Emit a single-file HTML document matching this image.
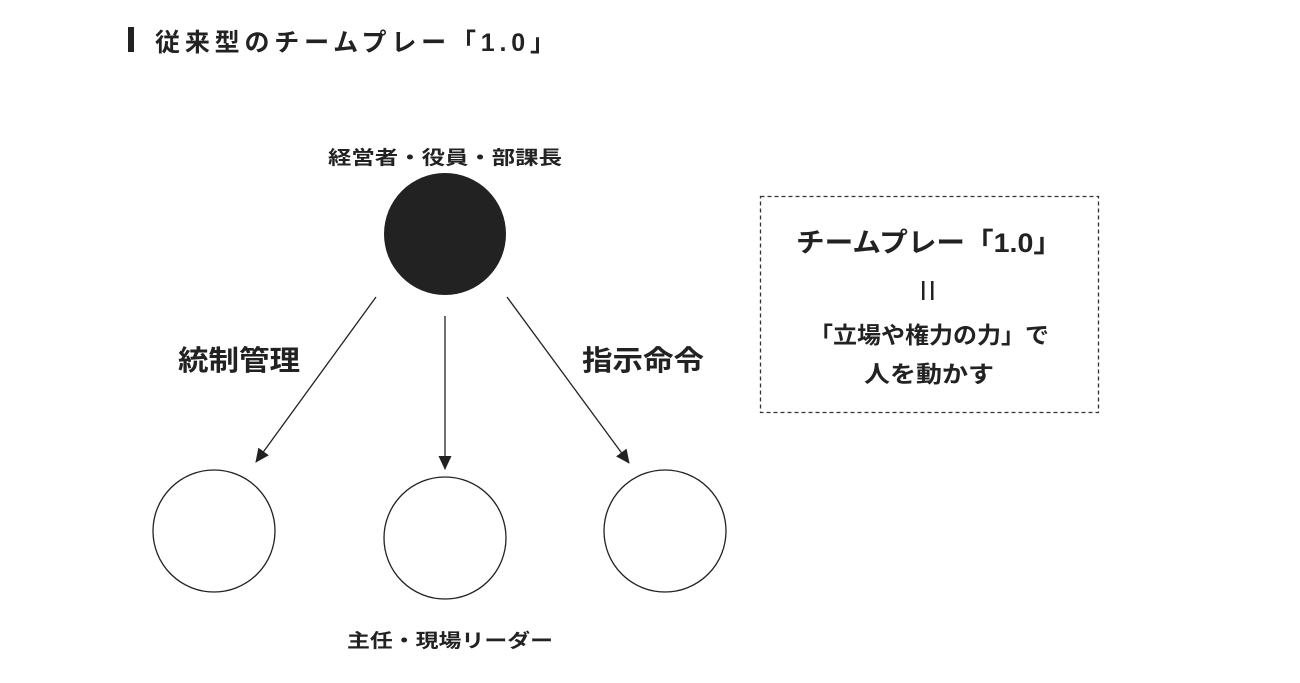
<!DOCTYPE html>
<html><head><meta charset="utf-8"><style>
html,body{margin:0;padding:0;background:#fff;}
svg{display:block;}
text{font-family:"Liberation Sans","Noto Sans CJK JP",sans-serif;fill:#222;}
</style></head><body>
<svg width="1300" height="683" viewBox="0 0 1300 683" xmlns="http://www.w3.org/2000/svg">
<defs>
<marker id="ah" markerWidth="14" markerHeight="14" refX="13" refY="6.5" orient="auto" markerUnits="userSpaceOnUse" viewBox="0 0 14 13">
<path d="M0,0 L14,6.5 L0,13 z" fill="#222"/>
</marker>
</defs>
<rect x="128" y="27" width="6" height="25" fill="#222"/>
<text x="155" y="51" font-size="25" font-weight="bold" textLength="400" lengthAdjust="spacing">従来型のチームプレー「1.0」</text>

<text x="445" y="164" font-size="19" font-weight="bold" text-anchor="middle" textLength="234" lengthAdjust="spacingAndGlyphs">経営者・役員・部課長</text>
<circle cx="445" cy="234" r="61" fill="#222"/>

<line x1="376" y1="297" x2="256" y2="462" stroke="#222" stroke-width="1.3" marker-end="url(#ah)"/>
<line x1="445" y1="316" x2="445" y2="469" stroke="#222" stroke-width="1.3" marker-end="url(#ah)"/>
<line x1="507" y1="297" x2="629" y2="463" stroke="#222" stroke-width="1.3" marker-end="url(#ah)"/>

<text x="239" y="370" font-size="28" font-weight="bold" text-anchor="middle" textLength="122" lengthAdjust="spacingAndGlyphs">統制管理</text>
<text x="643" y="370" font-size="28" font-weight="bold" text-anchor="middle" textLength="122" lengthAdjust="spacingAndGlyphs">指示命令</text>

<circle cx="214" cy="531" r="61" fill="none" stroke="#222" stroke-width="1.3"/>
<circle cx="445" cy="538" r="61" fill="none" stroke="#222" stroke-width="1.3"/>
<circle cx="665" cy="531" r="61" fill="none" stroke="#222" stroke-width="1.3"/>

<text x="450" y="647" font-size="19" font-weight="bold" text-anchor="middle" textLength="206" lengthAdjust="spacingAndGlyphs">主任・現場リーダー</text>

<rect x="760.5" y="196.5" width="338" height="216" fill="none" stroke="#333" stroke-width="1.3" stroke-dasharray="4,3"/>
<text x="929" y="252" font-size="27" font-weight="bold" text-anchor="middle" textLength="266" lengthAdjust="spacingAndGlyphs">チームプレー「1.0」</text>
<rect x="922" y="281" width="2.5" height="19" fill="#222"/>
<rect x="931" y="281" width="2.5" height="19" fill="#222"/>
<text x="929" y="343" font-size="23" font-weight="bold" text-anchor="middle" textLength="240" lengthAdjust="spacingAndGlyphs">「立場や権力の力」で</text>
<text x="929" y="382" font-size="23" font-weight="bold" text-anchor="middle" textLength="130" lengthAdjust="spacingAndGlyphs">人を動かす</text>
</svg>
</body></html>
